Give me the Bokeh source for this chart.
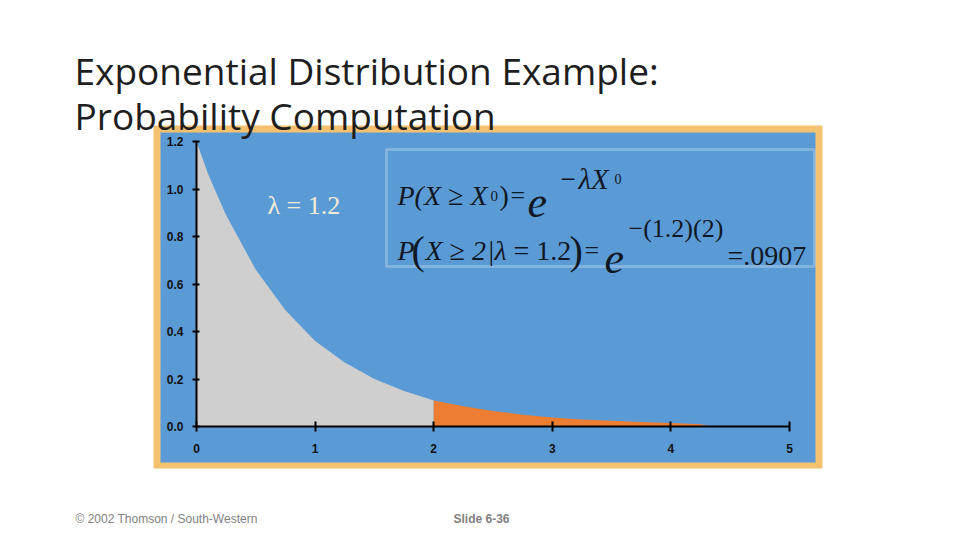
from bokeh.plotting import figure
from bokeh.models import Label, BoxAnnotation, FixedTicker, Range1d
from bokeh.embed import file_html
from bokeh.resources import INLINE

# ---------------- data ----------------
x_shaded = [0.0, 0.1, 0.25, 0.5, 0.75, 1.0, 1.25, 1.5, 1.75, 2.0]
y_shaded = [1.2, 1.06, 0.89, 0.66, 0.49, 0.36, 0.27, 0.20, 0.15, 0.11]
x_tail = [2.0, 2.25, 2.5, 2.75, 3.0, 3.25, 3.5, 3.75, 4.0, 4.25, 4.35]
y_tail = [0.11, 0.085, 0.065, 0.05, 0.038, 0.03, 0.024, 0.019, 0.015, 0.01, 0.0]

x_ticks = [0, 1, 2, 3, 4, 5]
y_ticks = [0.0, 0.2, 0.4, 0.6, 0.8, 1.0, 1.2]
y_tick_labels = ["0.0", "0.2", "0.4", "0.6", "0.8", "1.0", "1.2"]

title_lines = ["Exponential Distribution Example:", "Probability Computation"]
lambda_text = "λ = 1.2"
footer_left = "© 2002 Thomson / South-Western"
footer_right = "Slide 6-36"

# ---------------- geometry (page pixels) ----------------
W, H = 944, 530
FL, FR, FT, FB = 196, 789, 141, 426   # where x=0..5 and y=1.2..0 sit
XMAX, YMAX = 5.0, 1.2


def dx(px):
    return (px - FL) / (FR - FL) * XMAX


def dy(py):
    return (FB - py) / (FB - FT) * YMAX


BLUE = "#5b9bd5"
GOLD = "#f4c170"
GRAY = "#cfcfcf"
ORANGE = "#ed7d31"
INK = "#101826"

p = figure(width=W, height=H,
           x_range=Range1d(dx(0), dx(W)), y_range=Range1d(dy(H), dy(0)),
           output_backend="svg", toolbar_location=None,
           min_border=0, min_border_left=0, min_border_right=0,
           min_border_top=0, min_border_bottom=0)
p.background_fill_color = "white"
p.border_fill_color = "white"
p.outline_line_color = None
p.grid.visible = False

# panel behind the chart
p.add_layout(BoxAnnotation(left=dx(153), right=dx(822), top=dy(125), bottom=dy(468),
                           fill_color=GOLD, fill_alpha=1, line_color=None, level="image"))
p.add_layout(BoxAnnotation(left=dx(160), right=dx(815), top=dy(132), bottom=dy(462),
                           fill_color=BLUE, fill_alpha=1, line_color=None, level="image"))

# areas under the density
p.varea(x=x_shaded, y1=0, y2=y_shaded, fill_color=GRAY)
p.varea(x=x_tail, y1=0, y2=y_tail, fill_color=ORANGE)

# axes, pinned at x=0 / y=0 inside the frame
for ax in (p.xaxis, p.yaxis):
    ax.fixed_location = 0
    ax.axis_line_color = "black"
    ax.axis_line_width = 2
    ax.major_tick_line_color = "black"
    ax.major_tick_line_width = 2
    ax.minor_tick_in = 0
    ax.minor_tick_out = 0
    ax.major_label_text_font = "Liberation Sans"
    ax.major_label_text_font_style = "bold"
    ax.major_label_text_font_size = "12px"
    ax.major_label_text_color = "#111111"
p.xaxis.bounds = (0, XMAX)
p.yaxis.bounds = (0, YMAX)
p.xaxis.ticker = FixedTicker(ticks=x_ticks)
p.xaxis.major_tick_in = 5
p.xaxis.major_tick_out = 5
p.xaxis.major_label_standoff = 12
p.yaxis.ticker = FixedTicker(ticks=y_ticks)
p.yaxis.major_label_overrides = {t: s for t, s in zip(y_ticks, y_tick_labels)}
p.yaxis.major_tick_in = 3
p.yaxis.major_tick_out = 4
p.yaxis.major_label_standoff = 9


def lab(text, px, py, size, font="Liberation Serif", style="normal", color=INK):
    p.add_layout(Label(x=dx(px), y=dy(py), text=text, text_font=font,
                       text_font_size=f"{size}px", text_font_style=style,
                       text_color=color, text_align="left",
                       text_baseline="alphabetic"))


# formula box
p.add_layout(BoxAnnotation(left=dx(386), right=dx(814), top=dy(149), bottom=dy(266),
                           fill_color=None, line_color="#e4ecf4", line_width=3,
                           level="annotation"))

# line 1:  P(X >= X0) = e^(-lambda X0)
lab("P(X ≥ X", 397, 195, 28, style="italic")
lab("0", 490, 195, 15)
lab(")", 499, 195, 28)
lab("=", 510, 195, 26)
lab("e", 527, 202, 44, style="italic")
lab("−", 560, 178, 27)
lab("λX", 578, 178, 29, style="italic")
lab("0", 614, 178, 14)

# line 2:  P(X >= 2 | lambda = 1.2) = e^-(1.2)(2) = .0907
lab("P", 397, 250, 28, style="italic")
lab("(", 411, 250, 40)
lab("X ≥ 2", 425, 250, 28, style="italic")
lab("|", 488, 250, 28)
lab("λ", 494, 250, 28, style="italic")
lab("= 1.2", 513, 250, 28)
lab(")", 569, 250, 40)
lab("=", 584, 250, 26)
lab("e", 604, 258, 44, style="italic")
lab("−(1.2)(2)", 628, 228, 26)
lab("=.0907", 727, 255, 28)

# lambda note
lab(lambda_text, 267, 205, 26, color="#f3ecd5")

# title
lab(title_lines[0], 74, 70, 37, font="Open Sans", color="#1e1e1e")
lab(title_lines[1], 74, 115, 37, font="Open Sans", color="#1e1e1e")

# footer
lab(footer_left, 75, 518, 12, font="Liberation Sans", color="#7f7f7f")
lab(footer_right, 453, 518, 12, font="Liberation Sans", style="bold", color="#7f7f7f")

open("out.html", "w").write(file_html(p, INLINE))
